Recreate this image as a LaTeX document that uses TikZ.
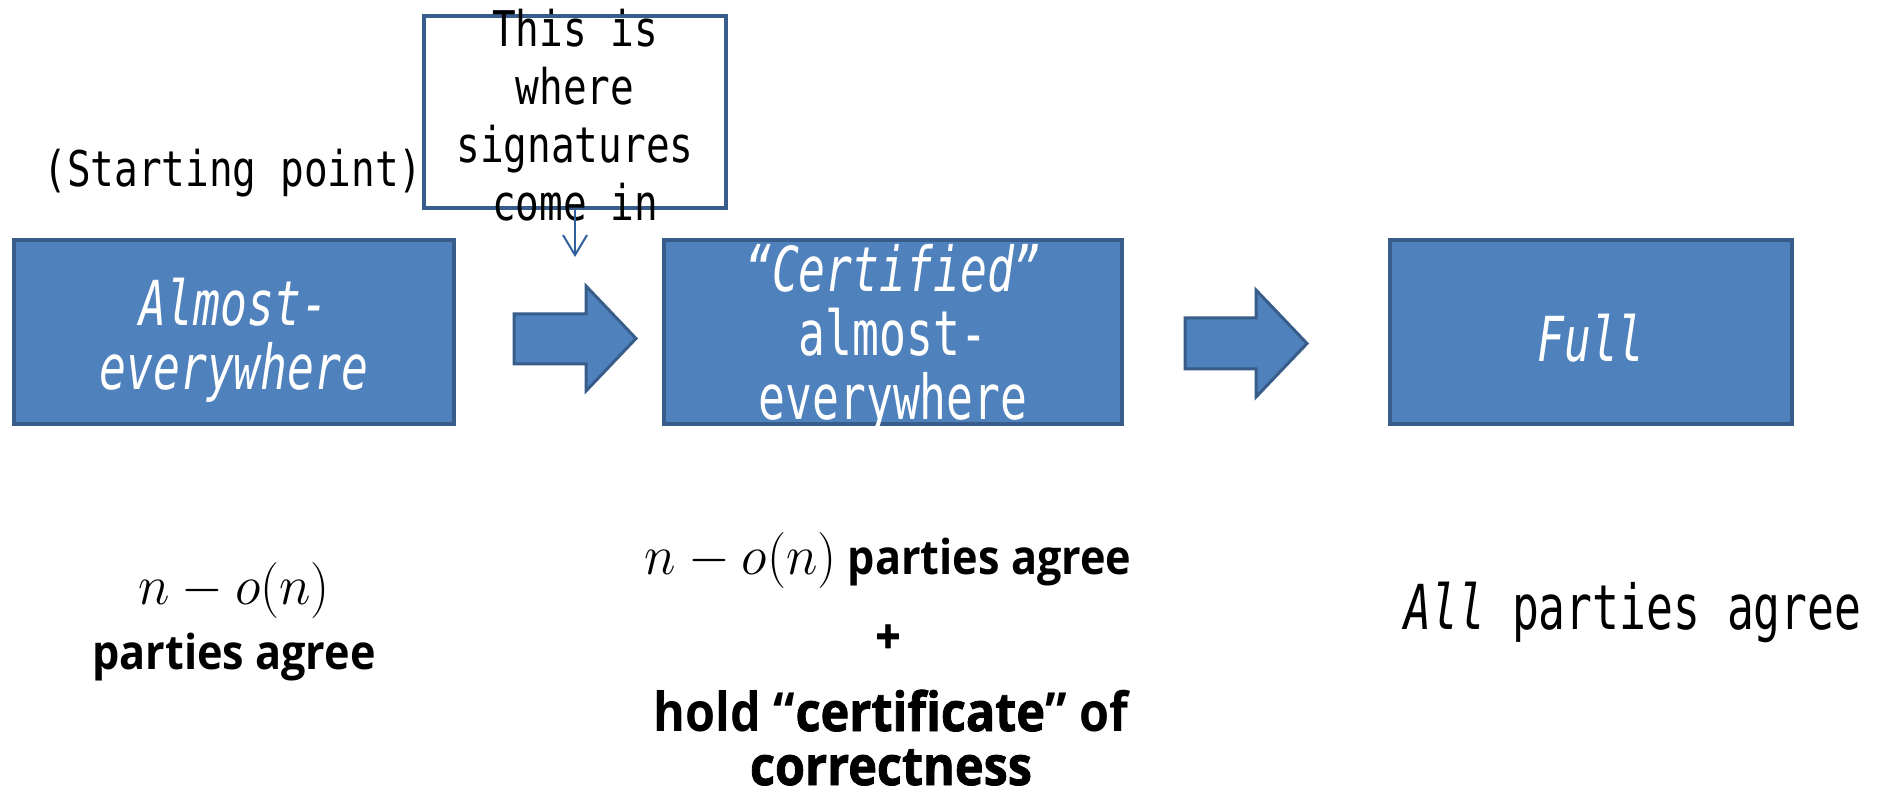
\RequirePackage{fix-cm}
\documentclass[tikz,border=0pt]{standalone}
\usepackage{fontspec}
\usetikzlibrary{arrows.meta}
\newfontfamily\gothic[FakeStretch=0.8]{DejaVu Sans Mono}
\newfontfamily\gothicbox[FakeStretch=0.72]{DejaVu Sans Mono}
\newfontfamily\gill[FakeStretch=0.9]{Open Sans}
\newcommand\heavy{\addfontfeatures{FakeBold=1.5}}
\newcommand\nminus{{\fontsize{28}{30}\selectfont\scalebox{0.96}[1]{$n-o(n)$}}}
\definecolor{boxfill}{HTML}{4F81BD}
\definecolor{boxline}{HTML}{385D8A}
\definecolor{pointer}{HTML}{2F5F9C}
\begin{document}
\begin{tikzpicture}[x=0.5pt,y=-0.5pt,
  stage/.style={draw=boxline, fill=boxfill, line width=1.8pt, inner sep=0pt,
    minimum height=92pt},
  stagetext/.style={text=white, align=center, inner sep=0pt,
    font=\gothicbox\fontsize{31}{32}\selectfont},
  blockarrow/.style={draw=boxline, fill=boxfill, line width=1.5pt, line join=miter},
  note/.style={font=\gothic\fontsize{24.6}{29}\selectfont, align=center, inner sep=0pt},
  plain/.style={font=\gothicbox\fontsize{31}{32}\selectfont, inner sep=0pt},
  gs/.style={font=\gill\bfseries\fontsize{24}{28}\selectfont, inner sep=0pt, anchor=base},
  gsbig/.style={gs, font=\gill\bfseries\fontsize{27}{30}\selectfont},
  pointer/.style={draw=pointer, line width=1pt, -{Straight Barb[length=10pt,width=12pt]}}
]
\useasboundingbox (0,0) rectangle (1883,795);

% the three stages
\node[stage, minimum width=220pt] (ae)   at (234,332) {};
\node[stage, minimum width=229pt] (cert) at (893,332) {};
\node[stage, minimum width=201pt] (full) at (1591,332) {};

\node[stagetext] (aeText)   at (234,340)   {\itshape Almost-\\\itshape everywhere};
\node[stagetext] (certText) at (893,338.5) {\itshape “Certified”\\almost-\\everywhere};
\node[stagetext] (fullText) at (1591,338) {\itshape Full};

% block arrows between the stages
\draw[blockarrow] (514,314) -- (586,314) -- (586,286) -- (636,338.5)
  -- (586,391) -- (586,364) -- (514,364) -- cycle;
\draw[blockarrow] (1185,318) -- (1256,318) -- (1256,290) -- (1307,343.5)
  -- (1256,397) -- (1256,369) -- (1185,369) -- cycle;

% starting point and the signature callout
\node[note, anchor=base] (start) at (233,187) {(Starting point)};
\node[draw=boxline, line width=2pt, minimum width=151pt, minimum height=96pt,
  inner sep=0pt] (callout) at (575,112) {};
\node[note] (calloutText) at (575,115) {This is\\where\\signatures\\come in};
\coordinate (calloutTip) at (575,257);
\draw[pointer] (callout.south) -- (calloutTip);

% what each stage guarantees
\node[gs] (aeMath)  at (234,604) {\nminus};
\node[gs] (aeAgree) at (234,669) {parties agree};

\node[gs] (certAgree) at (888,575) {\nminus\ parties agree};
\node[gs, anchor=center] (certPlus) at (888,639) {\heavy +};
\node[gsbig] (certHold) at (891,731) {hold “{\heavy certificate}” of};
\node[gsbig] (certCorr) at (891,785) {{\heavy correctness}};

\node[plain, anchor=base] (fullAgree) at (1633,630) {{\itshape All} parties agree};
\end{tikzpicture}
\end{document}
